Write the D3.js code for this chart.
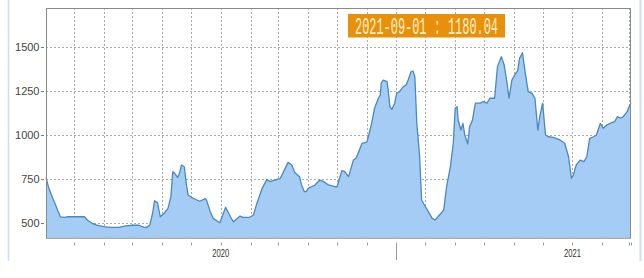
<!DOCTYPE html>
<html>
<head>
<meta charset="utf-8">
<script src="https://cdn.jsdelivr.net/npm/d3@7"></script>
<style>
  html, body { margin: 0; padding: 0; background: #ffffff; }
  svg { display: block; }
</style>
</head>
<body>
<svg id="chart" width="644" height="278"></svg>
<script>
// ---- data ----
const dates = [
  "2019-07-03","2019-07-06","2019-07-10","2019-07-13","2019-07-15","2019-07-18","2019-07-22","2019-07-25",
  "2019-08-12","2019-08-15","2019-08-20","2019-08-25","2019-09-01","2019-09-08","2019-09-17","2019-09-24",
  "2019-10-01","2019-10-08","2019-10-13","2019-10-16","2019-10-19","2019-10-22","2019-10-24","2019-10-27",
  "2019-10-30","2019-11-03","2019-11-07","2019-11-10","2019-11-12","2019-11-14","2019-11-17","2019-11-19",
  "2019-11-21","2019-11-24","2019-11-26","2019-11-28","2019-12-03","2019-12-10","2019-12-16","2019-12-17",
  "2019-12-21","2019-12-24","2019-12-31","2020-01-06","2020-01-11","2020-01-14","2020-01-21","2020-01-24",
  "2020-01-31","2020-02-04","2020-02-07","2020-02-13","2020-02-18","2020-02-21","2020-02-26","2020-03-03",
  "2020-03-08","2020-03-11","2020-03-15","2020-03-18","2020-03-23","2020-03-25","2020-03-28","2020-03-30",
  "2020-04-01","2020-04-08","2020-04-13","2020-04-17","2020-04-22","2020-04-29","2020-05-01","2020-05-06",
  "2020-05-09","2020-05-13","2020-05-18","2020-05-21","2020-05-27","2020-06-01","2020-06-03","2020-06-06",
  "2020-06-09","2020-06-13","2020-06-15","2020-06-16","2020-06-18","2020-06-22","2020-06-23","2020-06-25",
  "2020-06-27","2020-06-30","2020-07-02","2020-07-05","2020-07-09","2020-07-12","2020-07-14","2020-07-17",
  "2020-07-19","2020-07-21","2020-07-23","2020-07-26","2020-07-28","2020-08-01","2020-08-04","2020-08-08",
  "2020-08-11","2020-08-14","2020-08-20","2020-08-23","2020-08-27","2020-08-30","2020-09-01","2020-09-03",
  "2020-09-04","2020-09-07","2020-09-09","2020-09-11","2020-09-14","2020-09-16","2020-09-19","2020-09-22",
  "2020-09-27","2020-09-30","2020-10-04","2020-10-06","2020-10-07","2020-10-12","2020-10-15","2020-10-19",
  "2020-10-22","2020-10-25","2020-10-27","2020-10-30","2020-11-03","2020-11-05","2020-11-07","2020-11-10",
  "2020-11-13","2020-11-16","2020-11-20","2020-11-23","2020-11-26","2020-11-28","2020-12-01","2020-12-04",
  "2020-12-07","2020-12-12","2020-12-19","2020-12-24","2020-12-28","2020-12-31","2021-01-02","2021-01-05",
  "2021-01-09","2021-01-13","2021-01-16","2021-01-19","2021-01-23","2021-01-26","2021-01-30","2021-02-02",
  "2021-02-06","2021-02-11","2021-02-14","2021-02-17","2021-02-20","2021-02-23","2021-02-27","2021-03-01",
  "2021-03-03"
];
const values = [
  760,698,642,604,575,537,534,537,
  537,519,500,490,481,477,477,485,
  489,489,477,477,490,557,628,617,
  537,557,585,651,792,783,760,783,
  830,820,726,660,642,625,640,632,
  566,528,503,591,537,509,541,534,
  534,547,604,698,749,736,745,755,
  811,845,830,787,764,717,679,679,
  698,717,745,736,717,707,707,798,
  792,764,858,870,953,960,1000,1066,
  1151,1208,1226,1293,1311,1302,1264,1160,
  1145,1180,1236,1245,1274,1283,1311,1358,
  1362,1330,1066,877,632,594,566,528,
  519,537,575,707,821,953,1151,1160,
  1085,1028,1066,1000,949,1047,1085,1180,
  1180,1189,1180,1198,1208,1208,1387,1443,
  1396,1293,1208,1311,1349,1364,1434,1466,
  1349,1245,1236,1208,1028,1104,1180,1000,
  990,987,972,953,877,755,773,830,
  858,849,877,981,990,1000,1066,1038,
  1057,1070,1076,1104,1095,1104,1132,1160,
  1180.04
];
const yTicks = [500, 750, 1000, 1250, 1500];
const yearLabels = ["2020", "2021"];
const tooltipText = "2021-09-01 : 1180.04";

// ---- layout ----
const svg = d3.select("#chart");
const L = 46, R = 631, T = 8, B = 237.7;
const parse = d3.timeParse("%Y-%m-%d");
const data = dates.map((d, i) => ({ date: parse(d), value: values[i] }));

const x = d3.scaleTime()
  .domain(d3.extent(data, d => d.date))
  .range([L, R]);
const y = d3.scaleLinear().domain([418.5, 1719]).range([B, T]);

// outer light-blue frame sides
svg.append("line").attr("x1", 8.5).attr("x2", 8.5).attr("y1", 0).attr("y2", 261)
  .attr("stroke", "#c9dff2").attr("stroke-width", 1.5);
svg.append("line").attr("x1", 640.5).attr("x2", 640.5).attr("y1", 0).attr("y2", 261)
  .attr("stroke", "#c9dff2").attr("stroke-width", 2);

// grid
const months = d3.timeMonth.range(d3.timeMonth.ceil(x.domain()[0]), x.domain()[1]);
const grid = svg.append("g");
grid.selectAll("line.v").data(months).join("line")
  .attr("x1", d => Math.round(x(d)) + 0.5).attr("x2", d => Math.round(x(d)) + 0.5)
  .attr("y1", T).attr("y2", B)
  .attr("stroke", "#a8a8a8").attr("stroke-dasharray", "2,2").attr("stroke-width", 1);
grid.selectAll("line.h").data(yTicks).join("line")
  .attr("x1", L).attr("x2", R)
  .attr("y1", d => Math.round(y(d)) + 0.5).attr("y2", d => Math.round(y(d)) + 0.5)
  .attr("stroke", "#a8a8a8").attr("stroke-dasharray", "2,2").attr("stroke-width", 1);

// area + line
const area = d3.area().x(d => x(d.date)).y0(B).y1(d => y(d.value));
const line = d3.line().x(d => x(d.date)).y(d => y(d.value));
svg.append("path").datum(data).attr("d", area).attr("fill", "#a5ccf5");
svg.append("path").datum(data).attr("d", line).attr("fill", "none")
  .attr("stroke", "#4a88bd").attr("stroke-width", 1.3).attr("stroke-linejoin", "round");

// plot frame
svg.append("rect").attr("x", L + 0.5).attr("y", T + 0.5)
  .attr("width", R - L - 1).attr("height", B - T)
  .attr("fill", "none").attr("stroke", "#8a8a8a").attr("stroke-width", 1);

// y axis ticks/labels
const yAxis = svg.append("g");
yAxis.selectAll("line").data(yTicks).join("line")
  .attr("x1", 41).attr("x2", 44)
  .attr("y1", d => Math.round(y(d)) + 0.5).attr("y2", d => Math.round(y(d)) + 0.5)
  .attr("stroke", "#777");
yAxis.selectAll("text").data(yTicks).join("text")
  .attr("x", 39.5).attr("y", d => y(d) + 4)
  .attr("text-anchor", "end")
  .attr("font-family", "Liberation Sans, Arial, sans-serif")
  .attr("font-size", 11).attr("fill", "#444")
  .text(d => d);

// x axis ticks
const xAxis = svg.append("g");
xAxis.selectAll("line").data(months.concat([x.domain()[1]])).join("line")
  .attr("x1", d => Math.round(x(d)) + 0.5).attr("x2", d => Math.round(x(d)) + 0.5)
  .attr("y1", 242.5)
  .attr("y2", d => (d.getMonth() === 6 && d.getFullYear() === 2020) ? 260 : 245.5)
  .attr("stroke", "#999");
const years = months.filter(d => d.getMonth() === 0);
xAxis.selectAll("text").data(years).join("text")
  .attr("x", d => x(d) - 8.5).attr("y", 256.5)
  .attr("textLength", 17).attr("lengthAdjust", "spacingAndGlyphs")
  .attr("font-family", "Liberation Sans, Arial, sans-serif")
  .attr("font-size", 11).attr("fill", "#333")
  .text((d, i) => yearLabels[i]);

// tooltip label
svg.append("rect").attr("x", 348).attr("y", 14).attr("width", 157).attr("height", 23.5)
  .attr("fill", "#e8900c");
svg.append("text").attr("x", 355).attr("y", 33.5)
  .attr("textLength", 143).attr("lengthAdjust", "spacingAndGlyphs")
  .attr("font-family", "Liberation Mono, monospace")
  .attr("font-size", 23).attr("font-weight", 300).attr("fill", "#fff2c6")
  .text(tooltipText);
</script>
</body>
</html>
